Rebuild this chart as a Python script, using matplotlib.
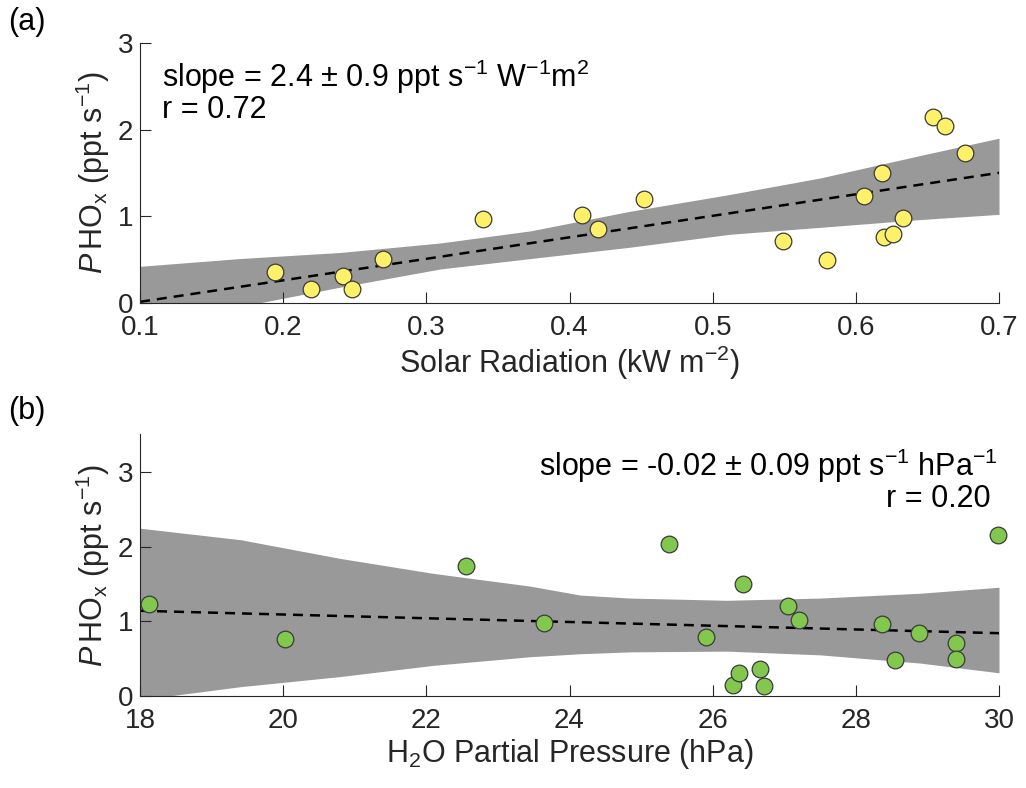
"""Two-panel scatter: PHOx vs solar radiation and vs H2O partial pressure."""

import matplotlib

matplotlib.use("Agg")
import matplotlib.pyplot as plt
import numpy as np

# panel (a): solar radiation (kW m-2) vs PHOx (ppt s-1)
solar_x = [0.194, 0.2195, 0.2416, 0.248, 0.270, 0.3396, 0.409, 0.420, 0.452, 0.549,
           0.580, 0.606, 0.618, 0.620, 0.626, 0.633, 0.654, 0.662, 0.676]
solar_y = [0.358, 0.153, 0.312, 0.153, 0.506, 0.962, 1.011, 0.855, 1.20, 0.715,
           0.495, 1.228, 1.50, 0.76, 0.79, 0.974, 2.15, 2.045, 1.733]
solar_band_x = [0.1, 0.17, 0.24, 0.31, 0.373, 0.442, 0.512, 0.575, 0.645, 0.70]
solar_band_hi = [0.42, 0.51, 0.58, 0.69, 0.83, 1.055, 1.25, 1.44, 1.70, 1.90]
solar_band_lo = [-0.27, -0.045, 0.18, 0.39, 0.51, 0.64, 0.79, 0.87, 0.96, 1.02]
solar_fit_x = [0.1, 0.7]
solar_fit_y = [0.01, 1.50]

# panel (b): H2O partial pressure (hPa) vs PHOx (ppt s-1)
h2o_x = [18.13, 20.02, 22.56, 23.65, 25.39, 25.91, 26.29, 26.37, 26.42, 26.66,
         26.72, 27.05, 27.20, 28.37, 28.54, 28.88, 29.40, 29.40, 29.98]
h2o_y = [1.234, 0.76, 1.74, 0.973, 2.04, 0.79, 0.147, 0.31, 1.495, 0.357,
         0.138, 1.205, 1.01, 0.96, 0.478, 0.847, 0.705, 0.50, 2.155]
h2o_band_x = [18.0, 19.41, 20.8, 22.1, 23.45, 24.15, 24.85, 26.2, 27.5, 28.9, 30.0]
h2o_band_hi = [2.245, 2.09, 1.84, 1.64, 1.47, 1.35, 1.31, 1.28, 1.31, 1.375, 1.455]
h2o_band_lo = [-0.05, 0.125, 0.26, 0.41, 0.525, 0.565, 0.59, 0.60, 0.55, 0.44, 0.31]
h2o_fit_x = [18.0, 30.0]
h2o_fit_y = [1.14, 0.84]

plt.rcParams["font.family"] = ["Liberation Sans", "DejaVu Sans"]
plt.rcParams["mathtext.fontset"] = "custom"
plt.rcParams["mathtext.rm"] = "Liberation Sans"
plt.rcParams["mathtext.it"] = "Liberation Sans:italic"
plt.rcParams["mathtext.bf"] = "Liberation Sans:bold"

INK = "#262626"
BAND = "#999999"
TICK_FS = 20
LABEL_FS = 22
NOTE_FS = 22


def _style(ax):
    for side in ("top", "right"):
        ax.spines[side].set_visible(False)
    for side in ("left", "bottom"):
        ax.spines[side].set_color(INK)
        ax.spines[side].set_linewidth(0.8)
    ax.tick_params(direction="in", length=8, width=0.8, colors=INK, labelsize=TICK_FS)
    ax.tick_params(axis="x", pad=9)
    ax.tick_params(axis="y", pad=5)


def _panel(ax, x, y, bx, lo, hi, fx, fy, color):
    ax.fill_between(bx, lo, hi, color=BAND, linewidth=0, zorder=1)
    ax.plot(fx, fy, color="black", linestyle=(0, (4, 2.8)), linewidth=1.8, zorder=2)
    ax.plot(x, y, linestyle="none", marker="o", markersize=12, markerfacecolor=color,
            markeredgecolor="#3a3a3a", markeredgewidth=0.9, zorder=3, clip_on=False)


fig = plt.figure(figsize=(10.26, 7.88), dpi=100)
ax_a = fig.add_axes([0.1365, 0.6159, 0.8372, 0.3296])
ax_b = fig.add_axes([0.1365, 0.1168, 0.8372, 0.3319])

ylabel = r"$P\,$HO$_\mathregular{x}$ (ppt s$^{-1}$)"

_panel(ax_a, solar_x, solar_y, solar_band_x, solar_band_lo, solar_band_hi,
       solar_fit_x, solar_fit_y, "#fff06a")
ax_a.set_xlim(0.1, 0.7)
ax_a.set_ylim(0, 3)
ax_a.set_xticks(np.arange(0.1, 0.71, 0.1))
ax_a.set_xticklabels(["0.1", "0.2", "0.3", "0.4", "0.5", "0.6", "0.7"])
ax_a.set_yticks([0, 1, 2, 3])
ax_a.set_xlabel(r"Solar Radiation (kW m$^{-2}$)", fontsize=LABEL_FS, color=INK, labelpad=2)
ax_a.set_ylabel(ylabel, fontsize=LABEL_FS, color=INK, labelpad=4)
ax_a.text(0.025, 0.87, r"slope = 2.4 $\pm$ 0.9 ppt s$^{-1}$ W$^{-1}$m$^{2}$", transform=ax_a.transAxes,
          fontsize=NOTE_FS, color="black", va="center", ha="left")
ax_a.text(0.025, 0.74, "r = 0.72", transform=ax_a.transAxes,
          fontsize=NOTE_FS, color="black", va="center", ha="left")
_style(ax_a)

_panel(ax_b, h2o_x, h2o_y, h2o_band_x, h2o_band_lo, h2o_band_hi,
       h2o_fit_x, h2o_fit_y, "#82c84e")
ax_b.set_xlim(18, 30)
ax_b.set_ylim(0, 3.5)
ax_b.set_xticks([18, 20, 22, 24, 26, 28, 30])
ax_b.set_yticks([0, 1, 2, 3])
ax_b.set_xlabel(r"H$_2$O Partial Pressure (hPa)", fontsize=LABEL_FS, color=INK, labelpad=2)
ax_b.set_ylabel(ylabel, fontsize=LABEL_FS, color=INK, labelpad=4)
ax_b.text(0.998, 0.88, r"slope = -0.02 $\pm$ 0.09 ppt s$^{-1}$ hPa$^{-1}$", transform=ax_b.transAxes,
          fontsize=NOTE_FS, color="black", va="center", ha="right")
ax_b.text(0.99, 0.755, "r = 0.20", transform=ax_b.transAxes,
          fontsize=NOTE_FS, color="black", va="center", ha="right")
_style(ax_b)

fig.text(0.008, 0.972, "(a)", fontsize=LABEL_FS, color="black", va="center", ha="left")
fig.text(0.008, 0.479, "(b)", fontsize=LABEL_FS, color="black", va="center", ha="left")

fig.savefig("out.png", dpi=100)
plt.close(fig)
